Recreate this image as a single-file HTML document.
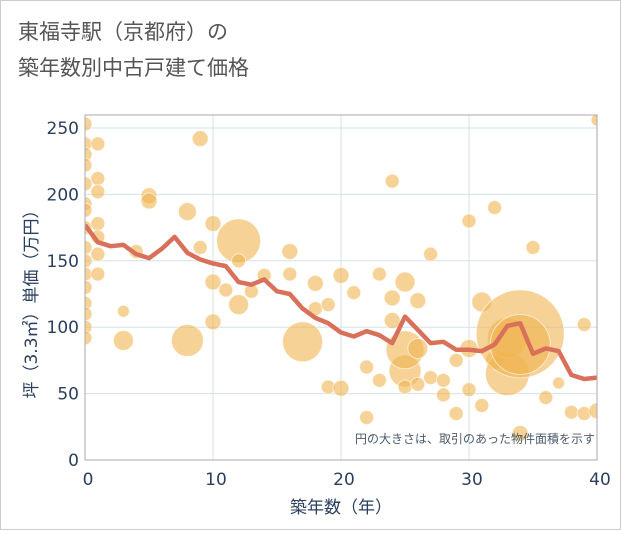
<!DOCTYPE html>
<html><head><meta charset="utf-8"><style>
body{margin:0;background:#fff;}
svg text{font-family:"DejaVu Sans","Noto Sans CJK JP",sans-serif;}
</style></head><body>
<svg width="621" height="530">
<defs><clipPath id="pc"><rect x="85" y="115" width="512" height="345"/></clipPath></defs>
<rect x="0.5" y="0.5" width="620" height="529" fill="#fff" stroke="#ccc"/>
<text x="18" y="39" font-size="21" fill="#555">東福寺駅（京都府）の</text>
<text x="18" y="75" font-size="21" fill="#555">築年数別中古戸建て価格</text>
<g id="grid"></g>
<g id="bubbles" clip-path="url(#pc)"></g>
<g id="line" clip-path="url(#pc)"></g>
<rect x="85" y="115" width="512" height="345" fill="none" stroke="#aaa"/>
<g id="ticks"></g>
<text x="595" y="443" font-size="12" fill="#4a5a6a" text-anchor="end">円の大きさは、取引のあった物件面積を示す</text>
<text x="341" y="513" font-size="17" fill="#2a3f5f" text-anchor="middle">築年数（年）</text>
<text transform="translate(37,300) rotate(-90)" font-size="17" fill="#2a3f5f" text-anchor="middle">坪（3.3㎡）単価（万円）</text>
</svg>
<script>
const xTicks=[0,10,20,30,40];
const yTicks=[0,50,100,150,200,250];
const lineYears=[0,1,2,3,4,5,6,7,8,9,10,11,12,13,14,15,16,17,18,19,20,21,22,23,24,25,26,27,28,29,30,31,32,33,34,35,36,37,38,39,40];
const lineValues=[177,164,161,162,155,152,159,168,156,151,148,146,134,132,136,127,125,114,107,103,96,93,97,94,88,108,98,88,89,83,83,82,87,101,103,80,84,82,64,61,62];
const bubbleX=[0,0,0,0,0,0,0,0,0,0,0,0,0,0,0,0,1,1,1,1,1,1,1,3,3,4,5,5,8,8,9,9,10,10,10,11,12,12,12,13,14,16,16,17,18,18,19,19,20,20,21,22,22,23,23,24,24,24,25,25,25,25,26,26,26,27,27,28,28,29,29,30,30,30,31,31,32,32,33,33,34,34,34,35,36,37,38,39,39,40,40];
const bubbleY=[253,238,230,222,208,193,188,175,160,150,140,130,118,110,100,92,238,212,202,178,168,155,140,112,90,157,199,195,187,90,242,160,178,134,104,128,165,117,150,127,139,157,140,89,114,133,55,117,54,139,126,32,70,140,60,210,122,105,67,134,83,55,120,84,57,155,62,49,60,35,75,180,53,84,41,119,190,75,65,92,95,87,20,160,47,58,36,35,102,37,256];
const bubbleR=[7,7,7,7,7,7,7,7,7,7,7,7,7,7,7,7,7,7,7,7,7,7,7,6,10,7,8,8,9,16,8,7,8,8,8,7,22,10,7,7,7,8,7,20,7,8,7,7,8,8,7,7,7,7,7,7,8,8,16,10,19,7,8,10,7,7,7,7,7,7,7,7,7,9,7,10,7,9,22,20,44,30,8,7,7,6,7,7,7,8,6];
const X=v=>85+v*12.8, Y=v=>460-v*1.328;
const NS="http://www.w3.org/2000/svg";
const mk=(t,a,p)=>{const e=document.createElementNS(NS,t);for(const k in a)e.setAttribute(k,a[k]);p.appendChild(e);return e;};
const grid=document.getElementById('grid'),ticks=document.getElementById('ticks');
xTicks.forEach(v=>{
 const l=mk('line',{x1:X(v),x2:X(v),y1:115,y2:460,stroke:'#d3e0ea','stroke-width':1},grid);
 
 
 const t=mk('text',{x:X(v)+3,y:485,'font-size':17,fill:'#2a3f5f','text-anchor':'middle'},ticks);t.textContent=v;
 
 
});
yTicks.forEach(v=>{
 const l=mk('line',{x1:85,x2:597,y1:Y(v),y2:Y(v),stroke:'#d3e0ea','stroke-width':1},grid);
 
 
 const t=mk('text',{x:79,y:Y(v)+6,'font-size':17,fill:'#2a3f5f','text-anchor':'end'},ticks);t.textContent=v;
 
 
});
const bg=document.getElementById('bubbles');
bubbleX.forEach((v,i)=>{
 const c=mk('circle',{cx:X(v),cy:Y(bubbleY[i]),r:bubbleR[i],fill:'rgba(240,180,80,0.6)',stroke:'rgba(255,255,255,0.6)','stroke-width':1},bg);
 
 
});
const p=mk('polyline',{points:lineYears.map((v,i)=>X(v)+','+Y(lineValues[i])).join(' '),fill:'none',stroke:'#d9705a','stroke-width':4.5,'stroke-linejoin':'round'},document.getElementById('line'));


</script>
</body></html>
